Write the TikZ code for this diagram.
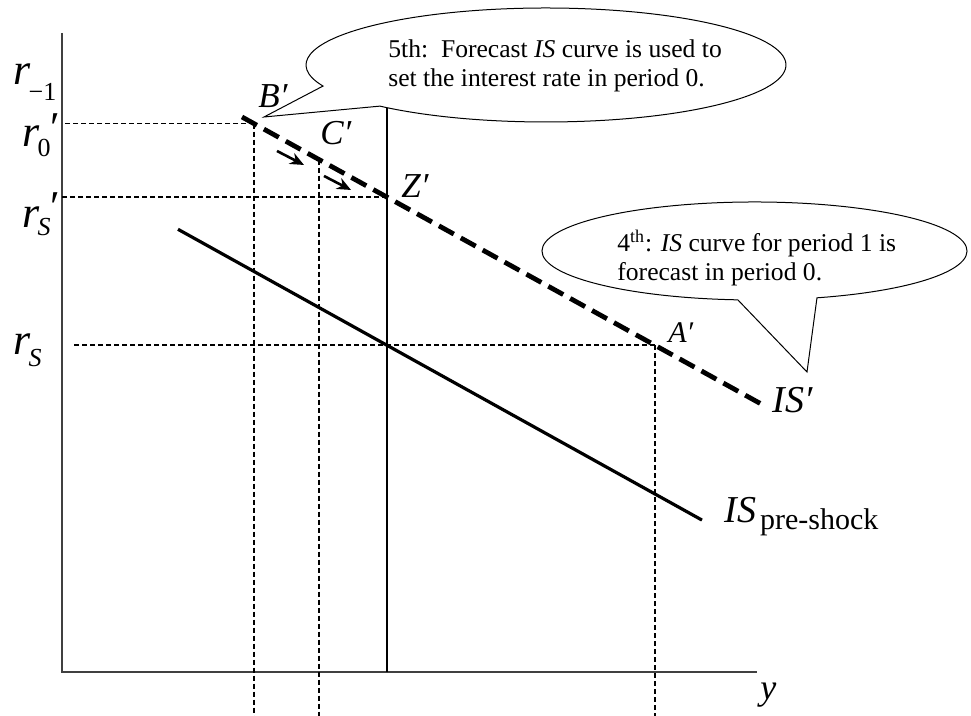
\documentclass[tikz,border=0pt]{standalone}
\usepackage{fontspec}
\setmainfont{Liberation Serif}
\usetikzlibrary{calc,arrows.meta}

\newcommand{\rlab}[2]{\textit{r}\kern-1pt\raisebox{#2}{\fontsize{13}{13}\selectfont #1}}

\begin{document}
\begin{tikzpicture}[x=0.5pt,y=0.5pt,>={Stealth[length=7pt,width=6pt]},
    every node/.style={inner sep=0pt},
    axis/.style={line width=0.8pt,black!75},
    guide/.style={line width=0.9pt,dash pattern=on 2.5pt off 1.5pt},
    isnew/.style={line width=2.4pt,dash pattern=on 8.5pt off 4pt},
    isold/.style={line width=1.6pt},
    bubble/.style={line width=0.5pt},
    lab/.style={anchor=base west,font=\fontsize{17.5}{20}\selectfont\itshape},
    rname/.style={anchor=base west,font=\fontsize{22}{26}\selectfont},
    note/.style={anchor=north west,align=left,font=\fontsize{12.8}{14.5}\selectfont}]
    \useasboundingbox (0,0) rectangle (971,716);

    % axes
    \coordinate (o) at (62,44);
    \coordinate (ytop) at (62,683);
    \coordinate (xend) at (757,44);
    \coordinate (bot) at (0,0);
    \draw[axis] (ytop) -- (o) -- (xend);

    % points on IS'
    \coordinate (isa) at (242,599);
    \coordinate (isb) at (763,311);
    \coordinate (bp) at (254,592.4);
    \coordinate (cp) at (319,556.4);
    \coordinate (zp) at (387,518.8);
    \coordinate (ap) at (655,370.7);
    \coordinate (zt) at (387,608);
    \coordinate (iso1) at (178,486.7);
    \coordinate (iso2) at (702,195.9);

    % guide lines
    \draw[guide] (bp) -- (bp -| o);
    \draw[guide] (zp) -- (zp -| o);
    \draw[guide] (ap) -- ([xshift=6pt]ap -| o);
    \draw[guide] (bp) -- (bp |- bot);
    \draw[guide] (cp) -- (cp |- bot);
    \draw[guide] (ap) -- (ap |- bot);

    % curves
    \draw[line width=1.2pt] (zt) -- (zp |- o);
    \draw[isold] (iso1) -- (iso2);
    \draw[isnew] (isa) -- (isb);

    % movement along IS'
    \coordinate (m1a) at (277,565);
    \coordinate (m1b) at (304,551);
    \coordinate (m2a) at (324,540);
    \coordinate (m2b) at (351,526);
    \draw[->,line width=1.3pt] (m1a) -- (m1b);
    \draw[->,line width=1.3pt] (m2a) -- (m2b);

    % labels
    \node[rname] (rm1) at (13,631) {\rlab{−1}{-8pt}};
    \node[rname] (r0) at (22,569) {\rlab{0}{-5pt}\raisebox{2pt}{′}};
    \node[rname] (rsp) at (22,488) {\rlab{\textit{S}}{-4pt}\raisebox{3pt}{′}};
    \node[rname] (rs) at (13,361) {\rlab{\textit{S}}{-6pt}};
    \node[lab] (bl) at (258,608) {B′};
    \node[lab] (cl) at (320,571) {C′};
    \node[lab] (zl) at (401,518) {Z′};
    \node[lab,font=\fontsize{15}{17}\selectfont\itshape] (al) at (668,373) {A′};
    \node[lab,font=\fontsize{19}{22}\selectfont\itshape] (isn) at (772,303) {IS′};
    \node[lab,font=\fontsize{19}{22}\selectfont] (iso) at (724,193)
        {\textit{IS}\kern2pt\raisebox{-3.5pt}{\fontsize{15}{15}\selectfont pre-shock}};
    \node[lab,font=\fontsize{18}{20}\selectfont\itshape] (yl) at (760,16) {y};

    % callouts
    \coordinate (c1) at (546,651);
    \coordinate (tip1) at (264,599);
    \draw[bubble] ($(c1)+(201.7:120pt and 28.5pt)$) -- (tip1)
        -- ($(c1)+(226.2:120pt and 28.5pt)$)
        arc[start angle=226.2,end angle=561.7,x radius=120pt,y radius=28.5pt] -- cycle;
    \node[note] (n5) at (388,677)
        {5th:\ \ Forecast \textit{IS} curve is used to\\set the interest rate in period 0.};

    \coordinate (c2) at (754.5,465);
    \coordinate (tip2) at (807,344);
    \draw[bubble] ($(c2)+(265.5:106.25pt and 24.5pt)$) -- (tip2)
        -- ($(c2)+(287.1:106.25pt and 24.5pt)$)
        arc[start angle=287.1,end angle=625.5,x radius=106.25pt,y radius=24.5pt] -- cycle;
    \node[note] (n4) at (617,486)
        {4\textsuperscript{th}: \textit{IS} curve for period 1 is\\forecast in period 0.};
\end{tikzpicture}
\end{document}
